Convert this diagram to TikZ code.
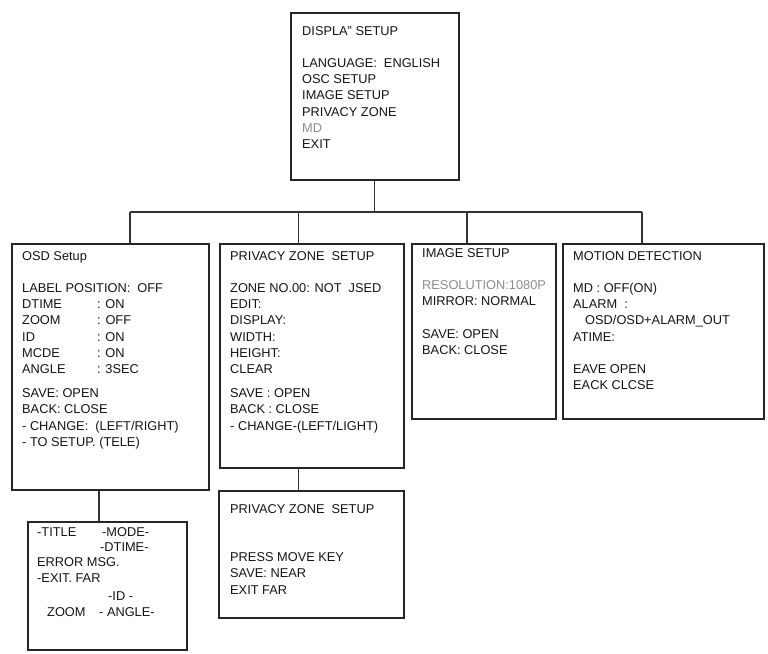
\documentclass[tikz,border=0pt]{standalone}
\usepackage{fontspec}
\setmainfont{Liberation Sans}
\newcommand\lbx[1]{\makebox[75pt][l]{#1}}
\begin{document}
\begin{tikzpicture}[x=1pt,y=-1pt,
  menubox/.style={draw=black!85,line width=1.5pt,anchor=north west,inner sep=0pt},
  menutext/.style={anchor=north west,align=left,inner sep=0pt,text=black!92,
    font=\fontsize{12.8}{16.2}\selectfont},
  wire/.style={draw=black!80,line width=1.3pt}]
\useasboundingbox (0,0) rectangle (768,653);
% boxes
\node[menubox,minimum width=168pt,minimum height=167pt] (top) at (290,12) {};
\node[menubox,minimum width=197pt,minimum height=246pt] (osd) at (11,243) {};
\node[menubox,minimum width=184pt,minimum height=224pt] (pz) at (219,243) {};
\node[menubox,minimum width=144pt,minimum height=175pt] (img) at (411,243) {};
\node[menubox,minimum width=201pt,minimum height=175pt] (md) at (562,243) {};
\node[menubox,minimum width=159pt,minimum height=128pt] (osub) at (27,521) {};
\node[menubox,minimum width=185pt,minimum height=127pt] (psub) at (218,490) {};
% texts
\node[menutext] (ttop) at (302,26) {DISPLA\textquotedblright{} SETUP\\[16.2pt]
LANGUAGE:\ \ ENGLISH\\OSC SETUP\\IMAGE SETUP\\PRIVACY ZONE\\\textcolor{black!45}{MD}\\EXIT};
\node[menutext] (tosd) at (22,251) {OSD Setup\\[16.2pt]
LABEL POSITION:\ \ OFF\\\lbx{DTIME}: ON\\\lbx{ZOOM}: OFF\\\lbx{ID}: ON\\\lbx{MCDE}: ON\\\lbx{ANGLE}: 3SEC\\[8pt]
SAVE: OPEN\\BACK: CLOSE\\- CHANGE:\ \ (LEFT/RIGHT)\\- TO SETUP. (TELE)};
\node[menutext] (tpz) at (230,251) {PRIVACY ZONE\ \ SETUP\\[16.2pt]
ZONE NO.00: NOT\ \ JSED\\EDIT:\\DISPLAY:\\WIDTH:\\HEIGHT:\\CLEAR\\[8pt]
SAVE : OPEN\\BACK : CLOSE\\- CHANGE-(LEFT/LIGHT)};
\node[menutext] (timg) at (422,248) {IMAGE SETUP\\[16.2pt]
\textcolor{black!45}{RESOLUTION:1080P}\\MIRROR: NORMAL\\[16.2pt]
SAVE: OPEN\\BACK: CLOSE};
\node[menutext] (tmd) at (573,251) {MOTION DETECTION\\[16.2pt]
MD : OFF(ON)\\ALARM\ \ :\\\hspace*{12pt}OSD/OSD+ALARM\_OUT\\ATIME:\\[16.2pt]
EAVE OPEN\\EACK CLCSE};
\node[menutext] (tpsub) at (230,504) {PRIVACY ZONE\ \ SETUP\\[32.4pt]
PRESS MOVE KEY\\SAVE: NEAR\\EXIT FAR};
\node[menutext] (s1) at (37,527) {-TITLE};
\node[menutext] (s2) at (102,527) {-MODE-};
\node[menutext] (s3) at (100,542) {-DTIME-};
\node[menutext] (s4) at (37,557) {ERROR MSG.\\-EXIT. FAR};
\node[menutext] (s5) at (108,591) {-ID -};
\node[menutext] (s6) at (47,607) {ZOOM};
\node[menutext] (s7) at (99,607) {- ANGLE-};
% connectors
\coordinate (busL) at (130,212);
\coordinate (busR) at (642,212);
\draw[wire] (top.south) -- (top.south |- busL);
\draw[wire] (busL) -- (busR);
\draw[wire] (busL) -- (osd.north -| busL);
\draw[wire,line width=0.8pt] (pz.north -| 298,0) -- (298,212);
\draw[wire] (img.north -| 467,0) -- (467,212);
\draw[wire] (md.north -| busR) -- (busR);
\draw[wire] (osd.south -| 99,0) -- (osub.north -| 99,0);
\draw[wire,line width=0.8pt] (pz.south -| 298,0) -- (psub.north -| 298,0);
\end{tikzpicture}
\end{document}
